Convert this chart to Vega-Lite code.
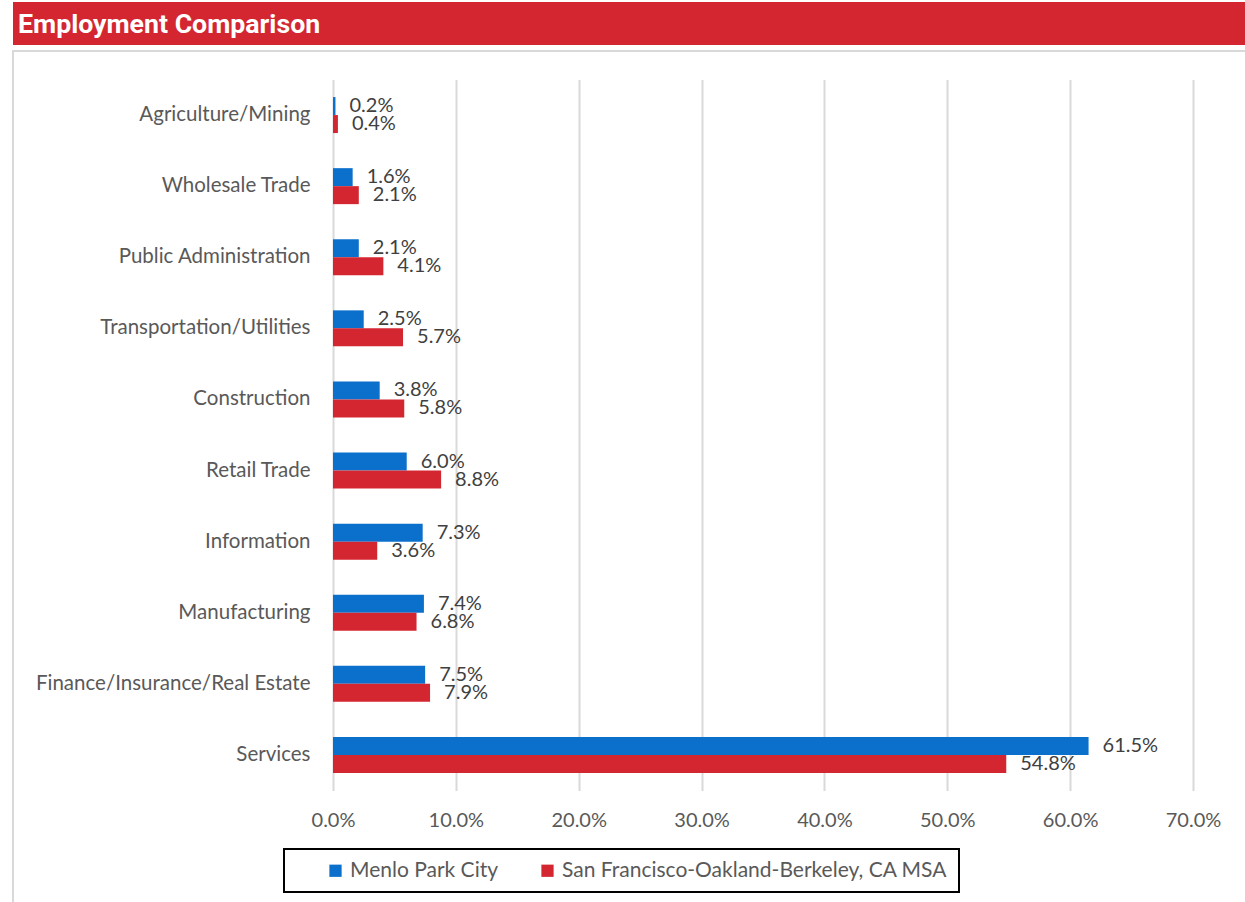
{
  "$schema": "https://vega.github.io/schema/vega-lite/v6.json",
  "padding": {"left": 12, "top": 2, "right": 0, "bottom": 0},
  "background": "white",
  "spacing": 5,
  "config": {
    "font": "Lato",
    "concat": {"spacing": 5}
  },
  "vconcat": [
    {
      "width": 1233,
      "height": 43,
      "view": {"fill": "#d42631", "stroke": null},
      "data": {"values": [{"t": "Employment Comparison"}]},
      "mark": {"type": "text", "align": "left", "baseline": "middle", "dx": 5, "dy": 1, "font": "Roboto", "fontSize": 26.7, "fontWeight": "bold", "color": "white"},
      "encoding": {
        "text": {"field": "t", "type": "nominal"},
        "x": {"datum": 0, "type": "quantitative", "scale": {"domain": [0, 1]}, "axis": null},
        "y": {"field": "t", "type": "nominal", "axis": null}
      }
    },
    {
      "width": 1233,
      "height": 852,
      "view": {"stroke": "#d9d9d9", "strokeWidth": 2, "fill": "white"},
      "data": {
        "values": [
          {"industry": "Agriculture/Mining", "area": "Menlo Park City", "share": 0.002},
          {"industry": "Agriculture/Mining", "area": "San Francisco-Oakland-Berkeley, CA MSA", "share": 0.004},
          {"industry": "Wholesale Trade", "area": "Menlo Park City", "share": 0.016},
          {"industry": "Wholesale Trade", "area": "San Francisco-Oakland-Berkeley, CA MSA", "share": 0.021},
          {"industry": "Public Administration", "area": "Menlo Park City", "share": 0.021},
          {"industry": "Public Administration", "area": "San Francisco-Oakland-Berkeley, CA MSA", "share": 0.041},
          {"industry": "Transportation/Utilities", "area": "Menlo Park City", "share": 0.025},
          {"industry": "Transportation/Utilities", "area": "San Francisco-Oakland-Berkeley, CA MSA", "share": 0.057},
          {"industry": "Construction", "area": "Menlo Park City", "share": 0.038},
          {"industry": "Construction", "area": "San Francisco-Oakland-Berkeley, CA MSA", "share": 0.058},
          {"industry": "Retail Trade", "area": "Menlo Park City", "share": 0.060},
          {"industry": "Retail Trade", "area": "San Francisco-Oakland-Berkeley, CA MSA", "share": 0.088},
          {"industry": "Information", "area": "Menlo Park City", "share": 0.073},
          {"industry": "Information", "area": "San Francisco-Oakland-Berkeley, CA MSA", "share": 0.036},
          {"industry": "Manufacturing", "area": "Menlo Park City", "share": 0.074},
          {"industry": "Manufacturing", "area": "San Francisco-Oakland-Berkeley, CA MSA", "share": 0.068},
          {"industry": "Finance/Insurance/Real Estate", "area": "Menlo Park City", "share": 0.075},
          {"industry": "Finance/Insurance/Real Estate", "area": "San Francisco-Oakland-Berkeley, CA MSA", "share": 0.079},
          {"industry": "Services", "area": "Menlo Park City", "share": 0.615},
          {"industry": "Services", "area": "San Francisco-Oakland-Berkeley, CA MSA", "share": 0.548}
        ]
      },
      "encoding": {
        "y": {
          "field": "industry",
          "type": "nominal",
          "sort": ["Agriculture/Mining", "Wholesale Trade", "Public Administration", "Transportation/Utilities", "Construction", "Retail Trade", "Information", "Manufacturing", "Finance/Insurance/Real Estate", "Services"],
          "scale": {"range": [28.5, 739.5], "paddingInner": 0.494, "paddingOuter": 0.247},
          "title": null,
          "axis": {
            "orient": "left",
            "offset": -320,
            "domain": false,
            "ticks": false,
            "grid": false,
            "labelPadding": 23,
            "labelFontSize": 20.5,
            "labelColor": "#595959",
            "labelFont": "Lato",
            "labelLimit": 400
          }
        },
        "yOffset": {
          "field": "area",
          "type": "nominal",
          "sort": ["Menlo Park City", "San Francisco-Oakland-Berkeley, CA MSA"],
          "scale": {"paddingInner": 0, "paddingOuter": 0}
        },
        "x": {
          "field": "share",
          "type": "quantitative",
          "scale": {"domain": [0, 0.7], "range": [320, 1180], "nice": false, "zero": true},
          "title": null,
          "axis": {
            "orient": "bottom",
            "offset": -111.5,
            "values": [0, 0.1, 0.2, 0.3, 0.4, 0.5, 0.6, 0.7],
            "format": ".1%",
            "domain": false,
            "ticks": false,
            "grid": false,
            "labelFlush": false,
            "labelOverlap": false,
            "labelPadding": 19,
            "labelFontSize": 20,
            "labelColor": "#595959",
            "labelFont": "Lato"
          }
        }
      },
      "layer": [
        {
          "mark": {"type": "bar"},
          "encoding": {
            "x": {
              "field": "share",
              "type": "quantitative",
              "title": null,
              "axis": {
                "orient": "top",
                "values": [0, 0.1, 0.2, 0.3, 0.4, 0.5, 0.6, 0.7],
                "domain": false,
                "ticks": false,
                "labels": false,
                "grid": true,
                "gridColor": "#d9d9d9",
                "gridWidth": 2
              }
            },
            "color": {
              "field": "area",
              "type": "nominal",
              "sort": ["Menlo Park City", "San Francisco-Oakland-Berkeley, CA MSA"],
              "scale": {"range": ["#0b6fcc", "#d42631"]},
              "legend": {
                "title": null,
                "orient": "none",
                "legendX": 271,
                "legendY": 847,
                "direction": "horizontal",
                "columns": 2,
                "symbolType": "square",
                "symbolSize": 150,
                "symbolStrokeWidth": 0,
                "symbolOffset": 30,
                "columnPadding": 8,
                "labelFontSize": 21,
                "labelColor": "#595959",
                "labelFont": "Lato",
                "labelOffset": 4,
                "labelLimit": 500,
                "padding": 11,
                "strokeColor": "black",
                "encode": {"legend": {"update": {"strokeWidth": {"value": 2}}}}
              }
            }
          }
        },
        {
          "mark": {"type": "text", "align": "left", "baseline": "middle", "dx": 14, "fontSize": 20, "color": "#404040", "font": "Lato"},
          "encoding": {
            "text": {"field": "share", "type": "quantitative", "format": ".1%"}
          }
        }
      ]
    }
  ]
}
